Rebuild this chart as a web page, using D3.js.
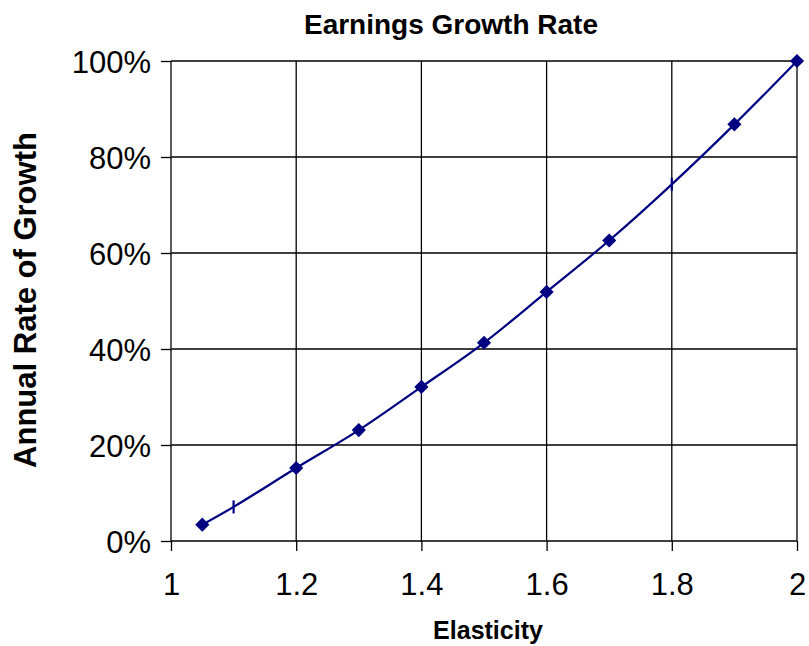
<!DOCTYPE html>
<html>
<head>
<meta charset="utf-8">
<script src="https://cdn.jsdelivr.net/npm/d3@7"></script>
<style>
  html, body { margin: 0; padding: 0; background: #fff; }
  svg { display: block; font-family: "Liberation Sans", Arial, sans-serif; }
</style>
</head>
<body>
<svg id="chart" width="809" height="646"></svg>
<script>
// Elasticity vs. annual growth rate of earnings
const elasticity = [1.05, 1.1, 1.2, 1.3, 1.4, 1.5, 1.6, 1.7, 1.8, 1.9, 2.0];
const growthRate = [0.034, 0.071, 0.152, 0.231, 0.321, 0.413, 0.519, 0.626, 0.743, 0.868, 1.0];
// markers drawn as a short vertical dash instead of a diamond
const dashMarkerAt = [1.1, 1.8];
const xTicks = [1, 1.2, 1.4, 1.6, 1.8, 2];
const yTicks = [0, 0.2, 0.4, 0.6, 0.8, 1.0];

const svg = d3.select("#chart");
const plot = { left: 171, right: 797, top: 61, bottom: 541 };
const navy = "#000080";

const x = d3.scaleLinear().domain([1, 2]).range([plot.left, plot.right]);
const y = d3.scaleLinear().domain([0, 1]).range([plot.bottom, plot.top]);

// grid
const grid = svg.append("g").attr("stroke", "#000").attr("stroke-width", 1.3);
grid.selectAll("line.v").data(xTicks).join("line")
  .attr("x1", d => x(d)).attr("x2", d => x(d))
  .attr("y1", plot.top).attr("y2", plot.bottom);
grid.selectAll("line.h").data(yTicks).join("line")
  .attr("x1", plot.left).attr("x2", plot.right)
  .attr("y1", d => y(d)).attr("y2", d => y(d));

// axes
const xAxis = svg.append("g")
  .attr("transform", `translate(0,${plot.bottom})`)
  .call(d3.axisBottom(x).tickValues(xTicks).tickSize(10).tickPadding(22)
    .tickFormat(d => d3.format("~g")(d)));
const yAxis = svg.append("g")
  .attr("transform", `translate(${plot.left},0)`)
  .call(d3.axisLeft(y).tickValues(yTicks).tickSize(10).tickPadding(10)
    .tickFormat(d3.format(".0%")));
[xAxis, yAxis].forEach(a => {
  a.select(".domain").remove();
  a.selectAll(".tick line").attr("stroke", "#000").attr("stroke-width", 1.3);
  a.selectAll(".tick text").attr("fill", "#000").attr("font-size", 31)
    .attr("font-family", "'Liberation Sans', Arial, sans-serif");
});
yAxis.selectAll(".tick text").attr("dy", "0.36em");

// smoothed line
const pts = elasticity.map((e, i) => [e, growthRate[i]]);
svg.append("path")
  .datum(pts)
  .attr("fill", "none")
  .attr("stroke", navy)
  .attr("stroke-width", 2.2)
  .attr("d", d3.line().x(d => x(d[0])).y(d => y(d[1])).curve(d3.curveCatmullRom.alpha(0.5)));

// markers
const isDash = d => dashMarkerAt.includes(d[0]);
svg.append("g").selectAll("path")
  .data(pts.filter(d => !isDash(d)))
  .join("path")
  .attr("transform", d => `translate(${x(d[0])},${y(d[1])}) rotate(45)`)
  .attr("d", "M-5,-5H5V5H-5Z")
  .attr("fill", navy);
svg.append("g").selectAll("line")
  .data(pts.filter(isDash))
  .join("line")
  .attr("x1", d => x(d[0])).attr("x2", d => x(d[0]))
  .attr("y1", d => y(d[1]) - 6.5).attr("y2", d => y(d[1]) + 6.5)
  .attr("stroke", navy).attr("stroke-width", 2.2);

// titles
svg.append("text")
  .attr("x", 451).attr("y", 34)
  .attr("text-anchor", "middle")
  .attr("font-size", 28).attr("font-weight", "bold")
  .text("Earnings Growth Rate");
svg.append("text")
  .attr("x", 488).attr("y", 639)
  .attr("text-anchor", "middle")
  .attr("font-size", 25).attr("font-weight", "bold")
  .text("Elasticity");
svg.append("text")
  .attr("transform", `translate(36,300) rotate(-90)`)
  .attr("text-anchor", "middle")
  .attr("font-size", 31).attr("font-weight", "bold")
  .text("Annual Rate of Growth");
</script>
</body>
</html>
